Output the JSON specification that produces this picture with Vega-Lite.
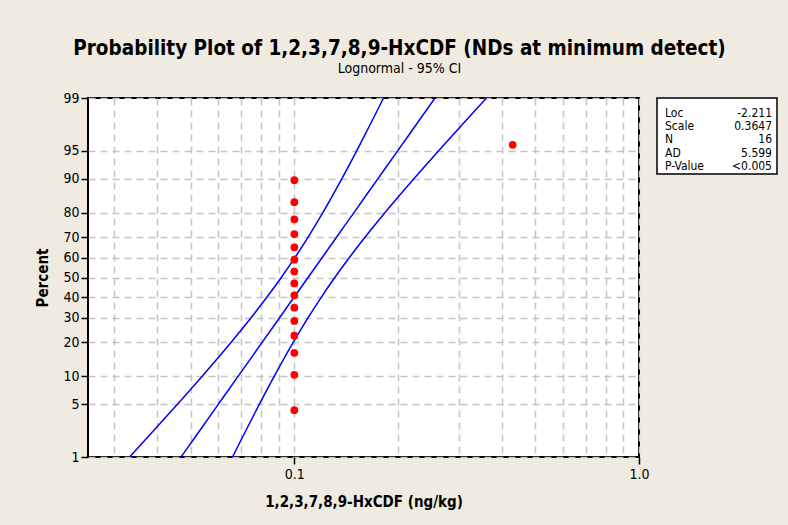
{
  "$schema": "https://vega.github.io/schema/vega-lite/v6.json",
  "bounds": "flush",
  "padding": {"left": 34, "top": 37, "right": 11, "bottom": 17},
  "background": "#EFEBE1",
  "datasets": {
    "obs": [
      {"x": 0.1, "percent": 4.27},
      {"x": 0.1, "percent": 10.37},
      {"x": 0.1, "percent": 16.46},
      {"x": 0.1, "percent": 22.56},
      {"x": 0.1, "percent": 28.66},
      {"x": 0.1, "percent": 34.76},
      {"x": 0.1, "percent": 40.85},
      {"x": 0.1, "percent": 46.95},
      {"x": 0.1, "percent": 53.05},
      {"x": 0.1, "percent": 59.15},
      {"x": 0.1, "percent": 65.24},
      {"x": 0.1, "percent": 71.34},
      {"x": 0.1, "percent": 77.44},
      {"x": 0.1, "percent": 83.54},
      {"x": 0.1, "percent": 89.63},
      {"x": 0.43, "percent": 95.73}
    ],
    "curves": [
      {"series": "lower", "percent": 1, "x": 0.03326},
      {"series": "lower", "percent": 2, "x": 0.03781},
      {"series": "lower", "percent": 5, "x": 0.04573},
      {"series": "lower", "percent": 10, "x": 0.05396},
      {"series": "lower", "percent": 20, "x": 0.06549},
      {"series": "lower", "percent": 30, "x": 0.07481},
      {"series": "lower", "percent": 40, "x": 0.08333},
      {"series": "lower", "percent": 50, "x": 0.09166},
      {"series": "lower", "percent": 60, "x": 0.10024},
      {"series": "lower", "percent": 70, "x": 0.10966},
      {"series": "lower", "percent": 80, "x": 0.12099},
      {"series": "lower", "percent": 90, "x": 0.13741},
      {"series": "lower", "percent": 95, "x": 0.1518},
      {"series": "lower", "percent": 98, "x": 0.16913},
      {"series": "lower", "percent": 99, "x": 0.18148},
      {"series": "fit", "percent": 1, "x": 0.04692},
      {"series": "fit", "percent": 2, "x": 0.05182},
      {"series": "fit", "percent": 5, "x": 0.06015},
      {"series": "fit", "percent": 10, "x": 0.06867},
      {"series": "fit", "percent": 20, "x": 0.08063},
      {"series": "fit", "percent": 30, "x": 0.09051},
      {"series": "fit", "percent": 40, "x": 0.09992},
      {"series": "fit", "percent": 50, "x": 0.10959},
      {"series": "fit", "percent": 60, "x": 0.1202},
      {"series": "fit", "percent": 70, "x": 0.13269},
      {"series": "fit", "percent": 80, "x": 0.14896},
      {"series": "fit", "percent": 90, "x": 0.17489},
      {"series": "fit", "percent": 95, "x": 0.19967},
      {"series": "fit", "percent": 98, "x": 0.23177},
      {"series": "fit", "percent": 99, "x": 0.256},
      {"series": "upper", "percent": 1, "x": 0.06618},
      {"series": "upper", "percent": 2, "x": 0.07101},
      {"series": "upper", "percent": 5, "x": 0.07912},
      {"series": "upper", "percent": 10, "x": 0.0874},
      {"series": "upper", "percent": 20, "x": 0.09926},
      {"series": "upper", "percent": 30, "x": 0.10952},
      {"series": "upper", "percent": 40, "x": 0.11981},
      {"series": "upper", "percent": 50, "x": 0.13103},
      {"series": "upper", "percent": 60, "x": 0.14413},
      {"series": "upper", "percent": 70, "x": 0.16055},
      {"series": "upper", "percent": 80, "x": 0.18339},
      {"series": "upper", "percent": 90, "x": 0.22259},
      {"series": "upper", "percent": 95, "x": 0.26263},
      {"series": "upper", "percent": 98, "x": 0.31761},
      {"series": "upper", "percent": 99, "x": 0.36111}
    ],
    "stats": [
      {"row": 1, "label": "Loc", "value": "-2.211"},
      {"row": 2, "label": "Scale", "value": "0.3647"},
      {"row": 3, "label": "N", "value": "16"},
      {"row": 4, "label": "AD", "value": "5.599"},
      {"row": 5, "label": "P-Value", "value": "<0.005"}
    ]
  },
  "hconcat": [
    {
      "width": 551,
      "height": 359,
      "title": {
        "text": "Probability Plot of 1,2,3,7,8,9-HxCDF (NDs at minimum detect)",
        "subtitle": "Lognormal - 95% CI",
        "anchor": "middle",
        "frame": "group",
        "dx": 36,
        "offset": 15,
        "font": "DejaVu Sans Condensed",
        "fontSize": 20.5,
        "fontWeight": "bold",
        "color": "#000000",
        "subtitleFont": "DejaVu Sans Condensed",
        "subtitleFontSize": 14,
        "subtitleColor": "#000000",
        "subtitlePadding": 3
      },
      "view": {"fill": "#FFFFFF", "stroke": "#000000", "strokeWidth": 2},
      "encoding": {
        "x": {
          "field": "x",
          "type": "quantitative",
          "scale": {"type": "log", "domain": [0.0252, 1.0], "nice": false, "zero": false},
          "axis": {
            "title": "1,2,3,7,8,9-HxCDF (ng/kg)",
            "values": [0.03, 0.04, 0.05, 0.06, 0.07, 0.08, 0.09, 0.1, 0.2, 0.3, 0.4, 0.5, 0.6, 0.7, 0.8, 0.9, 1],
            "labelExpr": "datum.value == 0.1 ? '0.1' : (datum.value == 1 ? '1.0' : '')",
            "labelOverlap": false,
            "labelFlush": false,
            "labelBound": false,
            "labelFont": "DejaVu Sans Condensed",
            "labelFontSize": 14,
            "labelColor": "#000000",
            "labelPadding": 3,
            "tickSize": 7,
            "tickWidth": 1.5,
            "tickColor": "#000000",
            "tickOpacity": {"condition": {"test": "datum.value == 0.1 || datum.value == 1", "value": 1}, "value": 0},
            "domain": false,
            "grid": true,
            "gridColor": "#C4C4C4",
            "gridDash": [7, 5],
            "gridWidth": 1.5,
            "titleFont": "DejaVu Sans Condensed",
            "titleFontSize": 15,
            "titleFontWeight": "bold",
            "titleColor": "#000000",
            "titleY": 44,
            "titleBaseline": "middle"
          }
        },
        "y": {
          "field": "z",
          "type": "quantitative",
          "scale": {"domain": [-2.3263, 2.3263], "nice": false, "zero": false},
          "axis": {
            "title": "Percent",
            "values": [-2.3263, -1.6449, -1.2816, -0.8416, -0.5244, -0.2533, 0, 0.2533, 0.5244, 0.8416, 1.2816, 1.6449, 2.3263],
            "labelExpr": "format(cumulativeNormal(datum.value) * 100, '.0f')",
            "labelOverlap": false,
            "labelFlush": false,
            "labelBound": false,
            "labelFont": "DejaVu Sans Condensed",
            "labelFontSize": 14,
            "labelColor": "#000000",
            "labelPadding": 2,
            "tickSize": 7,
            "tickWidth": 1.5,
            "tickColor": "#000000",
            "domain": false,
            "grid": true,
            "gridColor": "#C4C4C4",
            "gridDash": [7, 5],
            "gridWidth": 1.5,
            "titleFont": "DejaVu Sans Condensed",
            "titleFontSize": 15,
            "titleFontWeight": "bold",
            "titleColor": "#000000",
            "titleX": -46,
            "titleBaseline": "middle"
          }
        }
      },
      "layer": [
        {
          "data": {"name": "curves"},
          "transform": [{"calculate": "quantileNormal(datum.percent / 100)", "as": "z"}],
          "mark": {"type": "line", "color": "#0000FF", "strokeWidth": 1.5, "interpolate": "monotone", "clip": true},
          "encoding": {
            "detail": {"field": "series", "type": "nominal"}
          }
        },
        {
          "data": {"name": "obs"},
          "transform": [{"calculate": "quantileNormal(datum.percent / 100)", "as": "z"}],
          "mark": {"type": "point", "filled": true, "color": "#FF0000", "size": 60, "opacity": 1},
          "encoding": {}
        }
      ]
    },
    {
      "width": 120,
      "height": 76,
      "view": {"fill": "#FFFFFF", "stroke": "#000000", "strokeWidth": 1.5},
      "data": {"name": "stats"},
      "encoding": {
        "y": {"field": "row", "type": "ordinal", "axis": null, "scale": {"type": "point", "padding": 0.87, "align": 0.65}}
      },
      "layer": [
        {
          "mark": {"type": "text", "align": "left", "dx": 8, "font": "DejaVu Sans Condensed", "fontSize": 12, "color": "#000000"},
          "encoding": {
            "x": {"datum": 0, "type": "quantitative", "scale": {"domain": [0, 1]}, "axis": null},
            "text": {"field": "label"}
          }
        },
        {
          "mark": {"type": "text", "align": "right", "dx": -5, "font": "DejaVu Sans Condensed", "fontSize": 12, "color": "#000000"},
          "encoding": {
            "x": {"datum": 1, "type": "quantitative"},
            "text": {"field": "value"}
          }
        }
      ]
    }
  ],
  "spacing": 18
}
